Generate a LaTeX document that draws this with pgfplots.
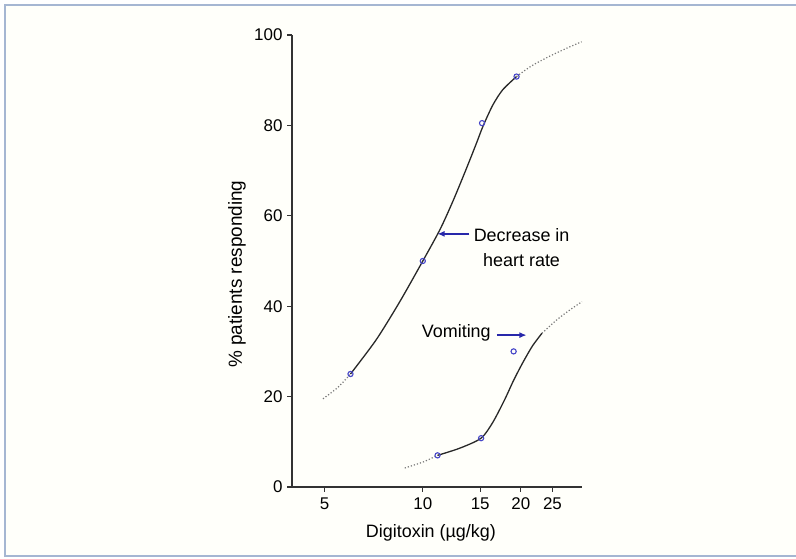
\documentclass[border=0pt]{standalone}
\usepackage{fontspec}
\setmainfont{Liberation Sans}
\usepackage{pgfplots}
\pgfplotsset{compat=1.18}
\usetikzlibrary{arrows.meta}
\definecolor{frameblue}{RGB}{165,182,210}
\definecolor{markblue}{RGB}{70,70,200}
\definecolor{arrowblue}{RGB}{40,40,170}
\definecolor{curvegray}{RGB}{40,40,40}
\definecolor{dotgray}{RGB}{120,120,120}
\begin{document}
\begin{tikzpicture}[x=1bp,y=1bp]
\useasboundingbox (0,0) rectangle (796,559);
\fill[white!98!yellow] (5,3) rectangle (796,554);
\draw[frameblue, line width=2.5bp] (796,554) -- (5,554) -- (5,3) -- (796,3);
\begin{axis}[
  at={(292bp,72bp)}, anchor=south west,
  scale only axis, width=290bp, height=452bp,
  xmode=log, xmin=3.97, xmax=30.8, ymin=0, ymax=100,
  axis x line*=bottom, axis y line*=left,
  axis line style={line width=1.4bp, draw=black!80},
  xtick={5,10,15,20,25}, xticklabels={5,10,15,20,25},
  xminorticks=false,
  ytick={0,20,40,60,80,100},
  tick align=outside, major tick length=5bp,
  tick style={line width=1.2bp, black!80},
  tick label style={font=\fontsize{17}{17}\selectfont, /pgf/number format/assume math mode=true},
  yticklabel style={xshift=-1bp},
  xticklabel style={yshift=-2bp},
  xlabel={Digitoxin (µg/kg)}, ylabel={\% patients responding},
  every axis x label/.style={at={(rel axis cs:0.479,0)}, yshift=-46bp, anchor=center, font=\fontsize{18}{18}\selectfont},
  every axis y label/.style={at={(rel axis cs:0,0.471)}, xshift=-55bp, rotate=90, anchor=center, font=\fontsize{19}{19}\selectfont},
  clip=false,
]
% decrease in heart rate
\addplot[dotgray, dotted, line width=1.2bp, smooth] coordinates {(4.94,19.5) (5.5,22.1) (6,25)};
\addplot[curvegray, line width=1.3bp, smooth, tension=0.45] coordinates {
  (6,25) (7.2,32.6) (8.5,41) (10,50) (11.3,57) (12.4,63.4) (13.6,70.4)
  (14.6,76) (15.3,79.8) (16.4,84.5) (17.6,87.9) (19.4,90.8)};
\addplot[dotgray, dotted, line width=1.2bp, smooth] coordinates {(19.4,90.8) (21.5,93.1) (24.5,95.3) (27.5,97) (30.7,98.5)};
% vomiting
\addplot[dotgray, dotted, line width=1.2bp, smooth] coordinates {(8.8,4.2) (10,5.5) (11.1,7)};
\addplot[curvegray, line width=1.3bp, smooth, tension=0.45] coordinates {
  (11.1,7) (13,8.6) (15.1,10.8) (16.4,14.3) (17.8,19.2) (19,23.6) (20.3,27.6) (21.7,31.2) (23.2,34)};
\addplot[dotgray, dotted, line width=1.2bp, smooth] coordinates {(23.2,34) (25.8,37) (28.3,39.2) (30.8,41)};
% observed points
\addplot[only marks, mark=o, mark size=2.6bp, markblue, mark options={line width=1.1bp}] coordinates {
  (6,25) (10,50) (15.2,80.5) (19.4,90.8)};
\addplot[only marks, mark=o, mark size=2.6bp, markblue, mark options={line width=1.1bp}] coordinates {
  (11.1,7) (15.1,10.8) (19,30)};
% annotations
\node[align=center, font=\fontsize{18}{25}\selectfont] at (axis cs:20.1,53) {Decrease in\\heart rate};
\draw[arrowblue, line width=1.3bp, -{Latex[length=7bp,width=6bp]}] (axis cs:13.9,56) -- (axis cs:11.1,56);
\node[font=\fontsize{18}{18}\selectfont] at (axis cs:12.67,34.1) {Vomiting};
\draw[arrowblue, line width=1.3bp, -{Latex[length=7bp,width=6bp]}] (axis cs:16.87,33.6) -- (axis cs:20.8,33.6);
\end{axis}
\end{tikzpicture}
\end{document}
